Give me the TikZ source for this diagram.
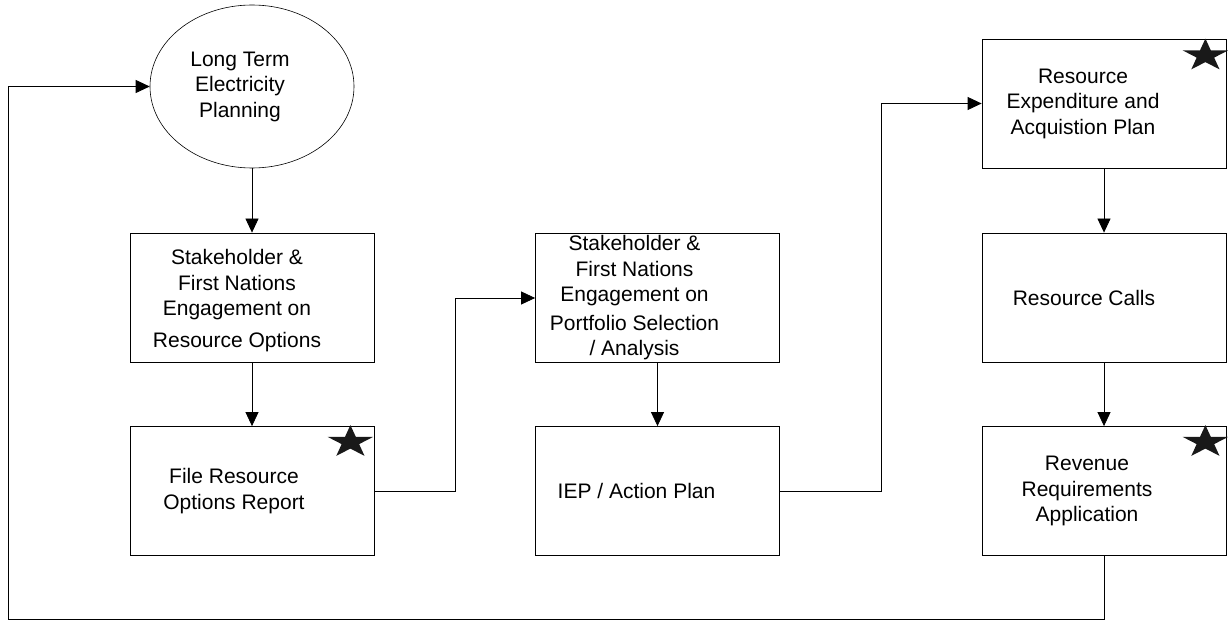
\documentclass[tikz,border=0pt]{standalone}
\usepackage{fontspec}
\setmainfont{Liberation Sans}
\usetikzlibrary{shapes.geometric,arrows.meta}
\tikzset{
  box/.style={draw,line width=0.8pt,minimum width=244pt,minimum height=129pt},
  txt/.style={font=\fontsize{21}{25.5}\selectfont,align=center,xshift=-20pt},
  arr/.style={line width=0.8pt,-{Triangle[length=14pt,width=13pt]}},
  badge/.pic={\fill[black!90] (90:24pt and 17pt) \foreach \k in {0,...,4}
    {-- (126+72*\k:9.2pt and 6.5pt) -- (162+72*\k:24pt and 17pt)} -- cycle;}
}

\begin{document}
\begin{tikzpicture}[x=1pt,y=-1pt]
\useasboundingbox (0,0) rectangle (1228,620);
\node[ellipse,draw,line width=0.6pt,minimum width=204pt,minimum height=163pt,
  label={[txt,xshift=8pt]center:Long Term\\Electricity\\Planning}] (ltep) at (252,86.5) {};
\node[box,label={[txt,xshift=5pt,yshift=-3pt]center:Stakeholder \&\\First Nations\\Engagement on\\[6pt]Resource Options}] (rop) at (252,297.5) {};
\node[box,label={[txt,xshift=2pt]center:File Resource\\Options Report}] (file) at (252,491) {};
\node[box,label={[txt,xshift=-3pt]center:Stakeholder \&\\First Nations\\Engagement on\\[3pt]Portfolio Selection\\/ Analysis}] (port) at (657.5,298) {};
\node[box,label={[txt,xshift=-1pt]center:IEP / Action Plan}] (iep) at (657.5,491) {};
\node[box,label={[txt,xshift=-1pt]center:Resource\\Expenditure and\\Acquistion Plan}] (rea) at (1104,103.5) {};
\node[box,label={[txt]center:Resource Calls}] (calls) at (1104,297.5) {};
\node[box,label={[txt,xshift=3pt]center:Revenue\\Requirements\\Application}] (rra) at (1104,491) {};
\coordinate (loop) at (8,619);

\pic at ([shift={(-24,16)}]file.north east) {badge};
\pic at ([shift={(-21,17)}]rea.north east) {badge};
\pic at ([shift={(-21,16)}]rra.north east) {badge};

\draw[arr] (ltep) -- (rop);
\draw[arr] (rop) -- (file);
\draw[arr] (file.east) -- ++(81,0) |- (port);
\draw[arr] (port) -- (iep);
\draw[arr] (iep.east) -- ++(101,0) |- (rea);
\draw[arr] (rea) -- (calls);
\draw[arr] (calls) -- (rra);
\draw[arr] (rra) |- (loop) |- (ltep);
\end{tikzpicture}
\end{document}
